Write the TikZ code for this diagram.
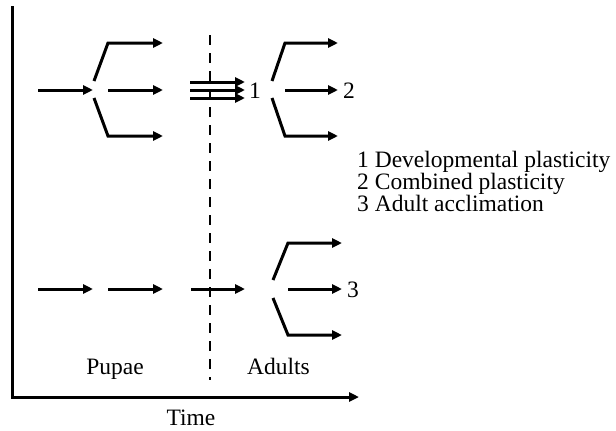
\documentclass[tikz,border=0pt]{standalone}
\usepackage{fontspec}
\setmainfont{Liberation Serif}
\usetikzlibrary{arrows.meta, positioning}
\tikzset{
  arr/.style={line width=3pt, -{Triangle[length=10pt,width=9pt]}},
  axisline/.style={line width=3pt, -{Triangle[length=10pt,width=9pt]}},
  lbl/.style={font=\fontsize{23.5}{23.5}\selectfont, inner sep=0pt},
}

\begin{document}
\begin{tikzpicture}[x=1pt, y=-1pt]
    \useasboundingbox (0,0) rectangle (616,431);
    % Axes
    \coordinate (ytop) at (12,6);
    \coordinate (origin) at (12,397);
    \coordinate (xend) at (359,397);
    \draw[axisline] (ytop) -- (origin) -- (xend);
    \node[lbl, anchor=base] (time) at (191,425) {Time};
    % Pupae / adults boundary
    \coordinate (btop) at (210,35);
    \coordinate (bbot) at (210,380);
    \draw[line width=2.6pt, dash pattern=on 10pt off 8pt] (btop) -- (bbot);
    \node[lbl, anchor=base] (pupae) at (115,374) {Pupae};
    \node[lbl, anchor=base] (adults) at (278.5,374) {Adults};
    % Pupal fork (top)
    \coordinate (pin) at (38,90);
    \coordinate (pfork) at (93,90);
    \draw[arr] (pin) -- (pfork);
    \coordinate (pu0) at (94,81);
    \coordinate (pu1) at (108,43);
    \coordinate (pu2) at (163,43);
    \draw[arr] (pu0) -- (pu1) -- (pu2);
    \coordinate (pm1) at (108,90);
    \coordinate (pm2) at (163,90);
    \draw[arr] (pm1) -- (pm2);
    \coordinate (pl0) at (94,98);
    \coordinate (pl1) at (108,136);
    \coordinate (pl2) at (163,136);
    \draw[arr] (pl0) -- (pl1) -- (pl2);
    % Three lines into adults
    \coordinate (ta1) at (190,82);
    \coordinate (ta2) at (245,82);
    \coordinate (tb1) at (190,90);
    \coordinate (tb2) at (245,90);
    \coordinate (tc1) at (190,98);
    \coordinate (tc2) at (245,98);
    \draw[arr] (ta1) -- (ta2);
    \draw[arr] (tb1) -- (tb2);
    \draw[arr] (tc1) -- (tc2);
    \node[lbl] (one) at (255,91) {1};
    % Adult fork (top)
    \coordinate (au0) at (272,81);
    \coordinate (au1) at (285,43);
    \coordinate (au2) at (338,43);
    \draw[arr] (au0) -- (au1) -- (au2);
    \coordinate (am1) at (285,90);
    \coordinate (am2) at (338,90);
    \draw[arr] (am1) -- (am2);
    \node[lbl] (two) at (349,91) {2};
    \coordinate (al0) at (272,98);
    \coordinate (al1) at (285,136);
    \coordinate (al2) at (338,136);
    \draw[arr] (al0) -- (al1) -- (al2);
    % Bottom row
    \coordinate (ba1) at (38,289);
    \coordinate (ba2) at (93,289);
    \coordinate (bb1) at (108,289);
    \coordinate (bb2) at (163,289);
    \coordinate (bc1) at (191,289);
    \coordinate (bc2) at (245,289);
    \draw[arr] (ba1) -- (ba2);
    \draw[arr] (bb1) -- (bb2);
    \draw[arr] (bc1) -- (bc2);
    % Adult fork (bottom)
    \coordinate (cu0) at (273,280);
    \coordinate (cu1) at (288,243);
    \coordinate (cu2) at (342,243);
    \draw[arr] (cu0) -- (cu1) -- (cu2);
    \coordinate (cm1) at (288,289);
    \coordinate (cm2) at (342,289);
    \draw[arr] (cm1) -- (cm2);
    \node[lbl] (three) at (353,290) {3};
    \coordinate (cl0) at (273,298);
    \coordinate (cl1) at (288,335);
    \coordinate (cl2) at (342,335);
    \draw[arr] (cl0) -- (cl1) -- (cl2);
    % Legend
    \node[lbl, anchor=base west] (leg1) at (357,167) {1 Developmental plasticity};
    \node[lbl, anchor=base west] (leg2) at (357,189) {2 Combined plasticity};
    \node[lbl, anchor=base west] (leg3) at (357,211) {3 Adult acclimation};
\end{tikzpicture}
\end{document}
